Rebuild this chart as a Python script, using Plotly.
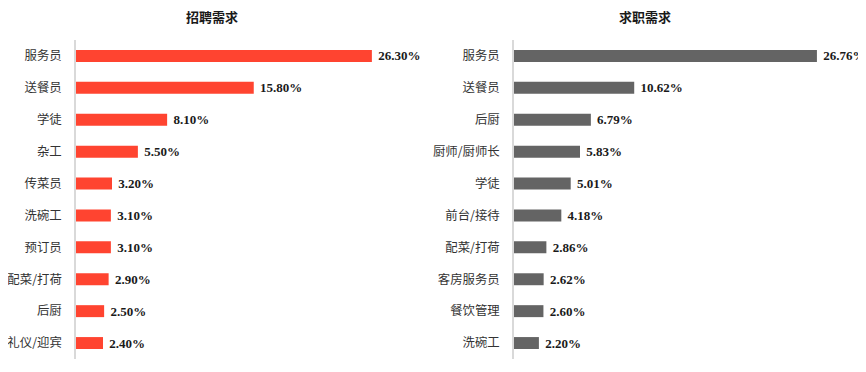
import plotly.graph_objects as go

left_title = "招聘需求"
left_cats = ["服务员", "送餐员", "学徒", "杂工", "传菜员", "洗碗工", "预订员", "配菜/打荷", "后厨", "礼仪/迎宾"]
left_vals = [26.30, 15.80, 8.10, 5.50, 3.20, 3.10, 3.10, 2.90, 2.50, 2.40]

right_title = "求职需求"
right_cats = ["服务员", "送餐员", "后厨", "厨师/厨师长", "学徒", "前台/接待", "配菜/打荷", "客房服务员", "餐饮管理", "洗碗工"]
right_vals = [26.76, 10.62, 6.79, 5.83, 5.01, 4.18, 2.86, 2.62, 2.60, 2.20]

RED = "#FF4430"
GREY = "#646464"
CJK = "Noto Sans CJK SC"
SERIF = "Liberation Serif"

fig = go.Figure()
fig.add_trace(go.Bar(
    x=left_vals, y=left_cats, orientation="h", xaxis="x", yaxis="y",
    marker=dict(color=RED, line=dict(width=0)),
    text=[f" {v:.2f}%" for v in left_vals], textposition="outside",
    constraintext="none",
    textfont=dict(family=SERIF, size=13, color="#1a1a1a", weight="bold"),
    cliponaxis=False, hoverinfo="skip",
))
fig.add_trace(go.Bar(
    x=right_vals, y=right_cats, orientation="h", xaxis="x2", yaxis="y2",
    marker=dict(color=GREY, line=dict(width=0)),
    text=[f" {v:.2f}%" for v in right_vals], textposition="outside",
    constraintext="none",
    textfont=dict(family=SERIF, size=13, color="#1a1a1a", weight="bold"),
    cliponaxis=False, hoverinfo="skip",
))

# page body adds an 8px offset; positions below are in figure pixels
OFF = 8
W, H = 866, 372
T = 40 - OFF
B = H - (359 - OFF)
PH = H - T - B
title_y = 1 + (T - (17 - OFF)) / PH

xax = dict(range=[0, 30], showgrid=False, zeroline=False, showticklabels=False,
           showline=False, ticks="", fixedrange=True, automargin=False)
yax = dict(type="category", autorange="reversed", showgrid=False, zeroline=False,
           showline=True, linecolor="#d9d9d9", linewidth=1.5, ticks="outside",
           ticklen=10, tickcolor="rgba(0,0,0,0)", automargin=False,
           tickfont=dict(family=CJK, size=12.4, color="#333333"))

fig.update_layout(
    width=W, height=H,
    margin=dict(l=0, r=0, t=T, b=B, autoexpand=False),
    paper_bgcolor="white", plot_bgcolor="white",
    showlegend=False, bargap=0.625,
    font=dict(family=CJK),
    xaxis=dict(xax, domain=[(76 - OFF) / W, (413.5 - OFF) / W], anchor="y"),
    yaxis=dict(yax, domain=[0, 1], anchor="x", categoryarray=left_cats),
    xaxis2=dict(xax, domain=[(514 - OFF) / W, (853.6 - OFF) / W], anchor="y2"),
    yaxis2=dict(yax, domain=[0, 1], anchor="x2", categoryarray=right_cats),
    annotations=[
        dict(text=left_title, x=(212 - OFF) / W, y=title_y, xref="paper", yref="paper",
             showarrow=False, yanchor="middle", xanchor="center",
             font=dict(family=CJK, size=13, color="#1a1a1a", weight="bold")),
        dict(text=right_title, x=(645 - OFF) / W, y=title_y, xref="paper", yref="paper",
             showarrow=False, yanchor="middle", xanchor="center",
             font=dict(family=CJK, size=13, color="#1a1a1a", weight="bold")),
    ],
)

fig.write_html("out.html")
